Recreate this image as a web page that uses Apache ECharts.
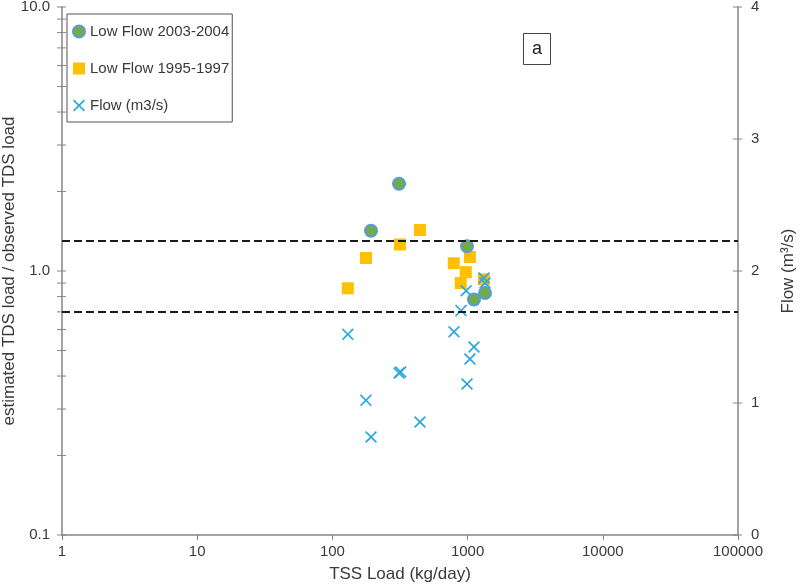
<!DOCTYPE html>
<html>
<head>
<meta charset="utf-8">
<script src="https://cdn.jsdelivr.net/npm/echarts@6/dist/echarts.min.js"></script>
<style>
html,body{margin:0;padding:0;background:#fff;}
#chart{width:800px;height:584px;}
</style>
</head>
<body>
<div id="chart"></div>
<script>
// ---- data ----
const lowFlow0304 = [[193, 1.42], [311, 2.14], [990, 1.24], [1115, 0.78], [1345, 0.825]];
const lowFlow9597 = [[130, 0.86], [177, 1.12], [316, 1.26], [444, 1.43], [790, 1.07], [1040, 1.13], [970, 0.99], [890, 0.90], [1320, 0.93]];
const flowData = [[130, 1.52], [177, 1.02], [320, 1.235], [444, 0.856], [793, 1.54], [1040, 1.333], [975, 1.85], [894, 1.70], [1320, 1.947], [193, 0.742], [311, 1.227], [990, 1.144], [1115, 1.424], [1345, 1.909]];
const refLines = [1.3, 0.7];
const leftTickValues = [0.1, 0.2, 0.3, 0.4, 0.5, 0.6, 0.7, 0.8, 0.9, 1, 2, 3, 4, 5, 6, 7, 8, 9, 10];
const rightTickValues = [0, 1, 2, 3, 4];
const seriesNames = ['Low Flow 2003-2004', 'Low Flow 1995-1997', 'Flow (m3/s)'];

const FONT = '"Liberation Sans", Arial, sans-serif';
const AXIS_COLOR = '#858585';
const TEXT_COLOR = '#3a3a3a';
const X_PATH = 'path://M0,1 L1,0 L5,4 L9,0 L10,1 L6,5 L10,9 L9,10 L5,6 L1,10 L0,9 L4,5 Z';

function tickRender(params, api) {
  const p = api.coord([api.value(0), api.value(1)]);
  return {
    type: 'line',
    shape: { x1: p[0] - 5, y1: p[1], x2: p[0] + 4, y2: p[1] },
    style: { stroke: AXIS_COLOR, lineWidth: 1 }
  };
}

const chart = echarts.init(document.getElementById('chart'), null, { renderer: 'canvas' });
chart.setOption({
  backgroundColor: '#fff',
  animation: false,
  textStyle: { fontFamily: FONT },
  grid: { left: 62, right: 62, top: 7, bottom: 49, containLabel: false, outerBoundsMode: 'none' },
  legend: {
    data: seriesNames,
    orient: 'vertical',
    left: 67, top: 14,
    padding: [10, 3, 9, 5],
    itemGap: 22,
    itemWidth: 12, itemHeight: 12,
    borderColor: '#555', borderWidth: 1,
    backgroundColor: '#fff',
    textStyle: { fontFamily: FONT, fontSize: 15, color: TEXT_COLOR, lineHeight: 15 }
  },
  xAxis: {
    type: 'log', logBase: 10, min: 1, max: 100000,
    name: 'TSS Load (kg/day)', nameLocation: 'middle', nameGap: 31, nameMoveOverlap: false,
    nameTextStyle: { fontFamily: FONT, fontSize: 17, color: TEXT_COLOR },
    axisLine: { lineStyle: { color: AXIS_COLOR, width: 1.5 } },
    axisTick: { show: true, length: 5, lineStyle: { color: AXIS_COLOR } },
    axisLabel: { fontFamily: FONT, fontSize: 15, color: TEXT_COLOR, margin: 9, formatter: v => String(Math.round(v)) },
    splitLine: { show: false }
  },
  yAxis: [
    {
      type: 'log', logBase: 10, min: 0.1, max: 10,
      name: 'estimated TDS load / observed TDS load', nameLocation: 'middle', nameGap: 44, nameMoveOverlap: false,
      nameTextStyle: { fontFamily: FONT, fontSize: 17, color: TEXT_COLOR },
      axisLine: { show: true, lineStyle: { color: AXIS_COLOR, width: 1.5 } },
      axisTick: { show: false },
      axisLabel: { fontFamily: FONT, fontSize: 15, color: TEXT_COLOR, margin: 12, formatter: v => Number(v).toFixed(1) },
      splitLine: { show: false }
    },
    {
      type: 'value', min: 0, max: 4, interval: 1, position: 'right',
      name: 'Flow (m³/s)', nameLocation: 'middle', nameGap: 42, nameMoveOverlap: false,
      nameTextStyle: { fontFamily: FONT, fontSize: 17, color: TEXT_COLOR },
      axisLine: { show: true, lineStyle: { color: AXIS_COLOR, width: 1.5 } },
      axisTick: { show: false },
      axisLabel: { fontFamily: FONT, fontSize: 15, color: TEXT_COLOR, margin: 13 },
      splitLine: { show: false }
    }
  ],
  graphic: [
    {
      type: 'group', left: 523, top: 33,
      children: [
        { type: 'rect', shape: { x: 0, y: 0, width: 27, height: 31 }, style: { fill: '#fff', stroke: '#444', lineWidth: 1 } },
        { type: 'text', x: 13.5, y: 15.5, style: { text: 'a', font: '18px ' + FONT, fill: '#222', textAlign: 'center', textVerticalAlign: 'middle' } }
      ]
    }
  ],
  series: [
    {
      type: 'custom', name: 'leftTicks', xAxisIndex: 0, yAxisIndex: 0, silent: true, clip: false,
      renderItem: tickRender, encode: { x: 0, y: 1 },
      data: leftTickValues.map(v => [1, v]), z: 1
    },
    {
      type: 'custom', name: 'rightTicks', xAxisIndex: 0, yAxisIndex: 1, silent: true, clip: false,
      renderItem: tickRender, encode: { x: 0, y: 1 },
      data: rightTickValues.map(v => [100000, v]), z: 1
    },
    {
      type: 'scatter', name: seriesNames[1], yAxisIndex: 0,
      symbol: 'rect', symbolSize: 12,
      itemStyle: { color: '#ffc000', opacity: 1 },
      data: lowFlow9597, z: 2
    },
    {
      type: 'scatter', name: seriesNames[2], yAxisIndex: 1,
      symbol: X_PATH, symbolSize: 12,
      itemStyle: { color: '#2aa8e0', opacity: 1 },
      data: flowData, z: 3
    },
    {
      type: 'scatter', name: seriesNames[0], yAxisIndex: 0,
      symbol: 'circle', symbolSize: 12,
      itemStyle: { color: '#70ad47', borderColor: '#5b9bd5', borderWidth: 2, opacity: 1 },
      data: lowFlow0304, z: 4,
      markLine: {
        silent: true, symbol: ['none', 'none'],
        label: { show: false },
        lineStyle: { color: '#1a1a1a', type: [8, 4], width: 2 },
        data: refLines.map(v => ({ yAxis: v }))
      }
    }
  ]
});
</script>
</body>
</html>
